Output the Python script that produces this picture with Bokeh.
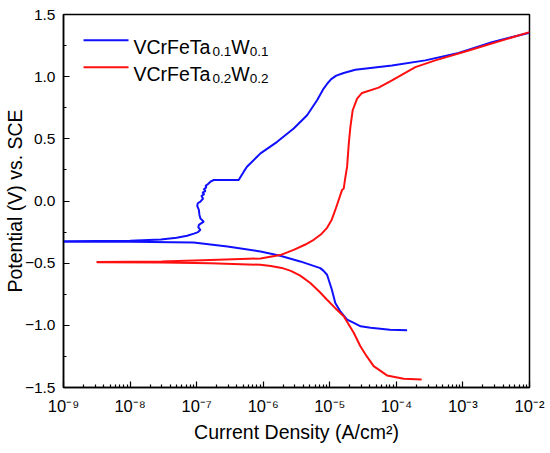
from bokeh.plotting import figure
from bokeh.models import (FixedTicker, CustomJSTickFormatter, Label, Arrow, Range1d)
from bokeh.embed import file_html
from bokeh.resources import INLINE

# ---- data ----
blue_name = "VCrFeTa0.1W0.1"
blue_current = [1.45e-4, 8.0e-5, 4.1e-5, 2.9e-5, 2.3e-5, 1.82e-5, 1.45e-5, 1.21e-5, 1.07e-5,
                9.1e-6, 8.0e-6, 7.2e-6, 3.6e-6, 1.8e-6, 9.1e-7, 2.9e-7, 9.0e-8, 1.0e-8, 1.0e-9,
                1.0e-9, 1.0e-8, 2.9e-8, 5.0e-8, 7.2e-8, 9.1e-8, 1.05e-7, 1.14e-7, 1.06e-7, 1.08e-7,
                1.28e-7, 1.14e-7, 1.10e-7, 1.08e-7, 1.02e-7, 1.04e-7, 1.14e-7, 1.25e-7, 1.18e-7,
                1.30e-7, 1.22e-7, 1.36e-7, 1.28e-7, 1.40e-7, 1.36e-7, 1.47e-7, 1.61e-7, 1.81e-7,
                4.28e-7, 5.1e-7, 5.7e-7, 9.1e-7, 1.62e-6, 2.87e-6, 4.56e-6, 6.44e-6, 8.09e-6,
                9.2e-6, 1.05e-5, 1.25e-5, 1.62e-5, 2.42e-5, 8.6e-5, 2.72e-4, 8.6e-4, 2.73e-3, 1.0e-2]
blue_potential = [-1.040, -1.036, -1.020, -1.008, -0.980, -0.954, -0.890, -0.820, -0.710,
                  -0.593, -0.560, -0.540, -0.486, -0.440, -0.406, -0.366, -0.334, -0.327, -0.328,
                  -0.324, -0.320, -0.310, -0.296, -0.280, -0.262, -0.250, -0.232, -0.212, -0.192,
                  -0.166, -0.140, -0.110, -0.072, -0.040, -0.018, -0.005, 0.020, 0.040,
                  0.055, 0.068, 0.080, 0.095, 0.110, 0.122, 0.135, 0.155, 0.169,
                  0.169, 0.236, 0.276, 0.383, 0.476, 0.583, 0.690, 0.810, 0.904,
                  0.945, 0.980, 1.008, 1.030, 1.056, 1.090, 1.131, 1.190, 1.278, 1.353]

red_name = "VCrFeTa0.2W0.2"
red_current = [2.4e-4, 1.29e-4, 7.24e-5, 4.56e-5, 3.6e-5, 2.88e-5, 2.29e-5, 1.62e-5, 1.2e-5,
               9.1e-6, 7.0e-6, 5.1e-6, 3.6e-6, 2.6e-6, 1.9e-6, 1.3e-6, 9.1e-7, 1.61e-7, 3.0e-8, 3.2e-9,
               3.2e-9, 3.0e-8, 1.6e-7, 9.1e-7, 1.8e-6, 2.87e-6, 4.3e-6, 5.73e-6, 7.5e-6, 9.1e-6,
               1.07e-5, 1.21e-5, 1.36e-5, 1.53e-5, 1.62e-5, 1.69e-5, 1.82e-5, 1.93e-5, 2.04e-5,
               2.21e-5, 2.57e-5, 3.05e-5, 5.42e-5, 8.6e-5, 1.93e-4, 3.85e-4, 1.22e-3, 1.0e-2]
red_potential = [-1.435, -1.430, -1.403, -1.328, -1.250, -1.168, -1.060, -0.927, -0.860,
                 -0.794, -0.730, -0.660, -0.600, -0.562, -0.538, -0.522, -0.513, -0.500, -0.494, -0.492,
                 -0.490, -0.487, -0.475, -0.462, -0.435, -0.393, -0.350, -0.312, -0.265, -0.216,
                 -0.150, -0.072, 0.008, 0.089, 0.100, 0.170, 0.276, 0.463, 0.596,
                 0.730, 0.824, 0.869, 0.912, 0.970, 1.077, 1.131, 1.211, 1.358]

x_major = [1e-9, 1e-8, 1e-7, 1e-6, 1e-5, 1e-4, 1e-3, 1e-2]
x_minor = [m * d for d in x_major[:-1] for m in range(2, 10)]
y_major = [-1.5, -1.0, -0.5, 0.0, 0.5, 1.0, 1.5]
y_minor = [-1.25, -0.75, -0.25, 0.25, 0.75, 1.25]

FONT = "Liberation Sans"
BLUE = "#1010ff"
RED = "#ff1010"

p = figure(width=548, height=445, x_axis_type="log",
           x_range=Range1d(1e-9, 1e-2), y_range=Range1d(-1.5, 1.5),
           output_backend="svg", toolbar_location=None,
           min_border_left=63, min_border_right=19, min_border_top=14, min_border_bottom=57)

p.line(blue_current, blue_potential, line_color=BLUE, line_width=2)
p.line(red_current, red_potential, line_color=RED, line_width=2)

p.grid.visible = False
p.outline_line_color = "black"
p.outline_line_width = 1.5
p.outline_line_alpha = 1.0

p.xaxis.ticker = FixedTicker(ticks=x_major, minor_ticks=x_minor)
p.yaxis.ticker = FixedTicker(ticks=y_major, minor_ticks=y_minor)

p.xaxis.formatter = CustomJSTickFormatter(code="""
const e = Math.round(Math.log10(tick));
const sup = {'-':'\u207b','0':'\u2070','1':'\u00b9','2':'\u00b2','3':'\u00b3','4':'\u2074','5':'\u2075','6':'\u2076','7':'\u2077','8':'\u2078','9':'\u2079'};
return '10' + String(e).split('').map(c => sup[c]).join('');
""")
p.yaxis.formatter = CustomJSTickFormatter(code="return tick.toFixed(1).replace('-', '\u2212');")

for ax in (p.xaxis[0], p.yaxis[0]):
    ax.axis_line_color = "black"
    ax.axis_line_width = 1.5
    ax.major_tick_line_color = "black"
    ax.minor_tick_line_color = "black"
    ax.major_tick_line_width = 1.2
    ax.minor_tick_line_width = 1.2
    ax.major_tick_in = 6
    ax.major_tick_out = 0
    ax.minor_tick_in = 3
    ax.minor_tick_out = 0
    ax.major_label_text_font = FONT
    ax.major_label_text_color = "black"
    ax.axis_label_text_font = FONT
    ax.axis_label_text_font_size = "19.5px"
    ax.axis_label_text_font_style = "normal"
    ax.axis_label_text_color = "black"

p.xaxis.major_label_text_font_size = "16.5px"
p.yaxis.major_label_text_font_size = "15.5px"
p.xaxis.axis_label = "Current Density (A/cm\u00b2)"
p.yaxis.axis_label = "Potential (V) vs. SCE"
p.xaxis.major_label_standoff = 9
p.xaxis.axis_label_standoff = 3
p.yaxis.major_label_standoff = 8
p.yaxis.axis_label_standoff = -4

# ---- legend drawn as annotations (subscripts) ----
def legend_row(color, sub, y_line, y_base):
    p.add_layout(Arrow(end=None, x_start=20, y_start=y_line, x_end=65, y_end=y_line,
                       start_units="screen", end_units="screen",
                       line_color=color, line_width=2))
    big = 19.5
    small = 13.5
    x = 70.0
    parts = [("VCrFeTa", big, 0, 4.056), (sub, small, -4.5, 1.39),
             ("W", big, 0, 0.944), (sub, small, -4.5, 1.39)]
    for txt, size, dy, em in parts:
        p.add_layout(Label(x=x, y=y_base + dy, x_units="screen", y_units="screen",
                           text=txt, text_font=FONT, text_font_size=f"{size}px",
                           text_color="black", text_align="left",
                           text_baseline="alphabetic"))
        x += em * size

legend_row(BLUE, "0.1", 347.3, 340.5)
legend_row(RED, "0.2", 320.3, 313.9)

open("out.html", "w").write(file_html(p, INLINE))
